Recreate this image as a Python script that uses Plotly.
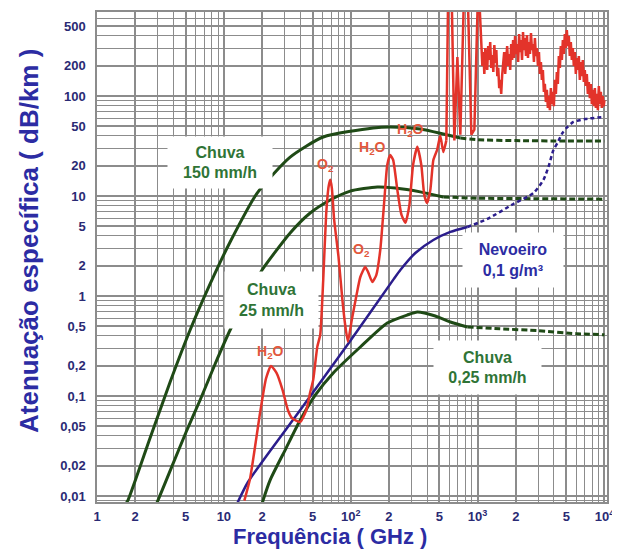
import plotly.graph_objects as go

# ---------------- data (GHz, dB/km) ----------------
rain150_f = [1.65, 1.757, 2.62, 3.77, 5.42, 7.79, 11.2, 18.3, 33.3, 60.7, 150, 205, 353, 537, 731]
rain150_a = [0.008, 0.0091, 0.038, 0.138, 0.457, 1.32, 3.47, 10.7, 24.5, 38.9, 47.9, 49, 46.8, 41.7, 38]
rain150_dash_f = [731, 1000, 2000, 5000, 10000]
rain150_dash_a = [38, 36.5, 35.8, 35.5, 35.5]

rain25_f = [2.9, 3.03, 3.91, 5.04, 6.5, 8.53, 11.2, 15.0, 20.0, 33.3, 47.9, 68.9, 99, 162, 224, 353, 537]
rain25_a = [0.008, 0.0091, 0.020, 0.0437, 0.0912, 0.209, 0.457, 0.955, 1.82, 4.27, 6.76, 9.12, 11.2, 12.3, 12.0, 11.0, 9.77]
rain25_dash_f = [537, 1000, 3000, 10000]
rain25_dash_a = [9.77, 9.5, 9.4, 9.3]

rain025_f = [19.8, 20.4, 23.2, 30.4, 40.0, 52.5, 72.8, 119, 194, 279, 335, 464, 610, 830]
rain025_a = [0.008, 0.0091, 0.0145, 0.0288, 0.0575, 0.102, 0.170, 0.309, 0.537, 0.646, 0.692, 0.631, 0.55, 0.49]
rain025_dash_f = [830, 1500, 3000, 6000, 10000]
rain025_dash_a = [0.49, 0.47, 0.45, 0.42, 0.41]

fog_f = [12.5, 15.5, 40, 99, 216, 246, 323, 448, 610, 830]
fog_a = [0.008, 0.0138, 0.0724, 0.355, 1.45, 1.82, 2.69, 3.63, 4.37, 4.90]
fog_dash_f = [830, 1194, 1915, 2752, 3304, 3616, 3960, 4258, 4667, 5105, 5690, 7080, 9820]
fog_dash_a = [4.90, 5.89, 8.32, 10.7, 14.5, 19.5, 28.8, 33.9, 42.7, 49, 55, 58.9, 61.7]

gas_low_f = [14.5, 16.1, 19.3, 21.5, 23.5, 26, 29, 32, 34.5, 40, 44.6, 48, 50.6, 54.5, 57.5,
             60.7, 64, 67, 69, 71, 74, 80, 86, 90.5, 95, 102, 111, 119, 130, 137, 148, 159,
             171, 184, 194, 205, 216, 233, 251, 270, 290, 310, 335, 360, 380, 400, 424,
             448, 480, 508, 537, 567]
gas_low_a = [0.009, 0.015, 0.068, 0.15, 0.2, 0.17, 0.115, 0.072, 0.06, 0.055, 0.072, 0.11, 0.145, 0.31, 0.41,
             1.45, 6.5, 12.5, 14.5, 12, 5.8, 2.5, 0.91, 0.51, 0.35, 0.58, 1.02, 1.55, 1.95, 1.74, 1.38, 1.62,
             2.9, 9.1, 20.4, 25.7, 22.9, 11.5, 6.5, 5.4, 8.1, 20.4, 31, 20.4, 10.2, 8.5, 11.5,
             22.9, 29, 40, 27.5, 36]
gas_mid_f = [588, 621, 656, 693, 731, 787, 830, 893, 943, 1014]
gas_mid_a = [1500, 1500, 36, 245, 41, 1500, 1500, 41, 46, 1500]
gas_high_f = [1070, 1090, 1110, 1130, 1150, 1170, 1190, 1212, 1235, 1257, 1280, 1305, 1330, 1355,
              1380, 1405, 1430, 1455, 1480, 1507, 1535, 1562, 1590, 1620, 1650, 1680, 1710, 1742,
              1775, 1807, 1840, 1872, 1905, 1940, 1975, 2012, 2050, 2087, 2125, 2162, 2200, 2240,
              2280, 2322, 2365, 2407, 2450, 2495, 2540, 2587, 2635, 2682, 2730, 2780, 2830, 2882,
              2935, 2990, 3045, 3100, 3155, 3212, 3270, 3330, 3390, 3452, 3515, 3580, 3645, 3712,
              3780, 3850, 3920, 3992, 4065, 4140, 4215, 4292, 4370, 4450, 4530, 4615, 4700, 4785,
              4870, 4960, 5050, 5142, 5235, 5332, 5430, 5530, 5630, 5735, 5840, 5947, 6055, 6167,
              6280, 6395, 6510, 6630, 6750, 6875, 7000, 7130, 7260, 7395, 7530, 7670, 7810, 7955,
              8100, 8250, 8400, 8555, 8710, 8870, 9030, 9195, 9360, 9530, 9700, 9850, 10000]
gas_high_a = [331, 200, 275, 166, 302, 219, 182, 316, 229, 347, 191, 257, 174, 324,
              214, 288, 158, 191, 120, 145, 105, 162, 209, 275, 166, 240, 316, 200,
              263, 182, 331, 229, 363, 240, 398, 263, 331, 219, 417, 275, 363, 229,
              437, 288, 380, 251, 407, 240, 347, 263, 427, 288, 331, 219, 380, 251,
              302, 200, 275, 166, 219, 145, 182, 110, 132, 87, 115, 76, 100, 72,
              120, 83, 110, 79, 145, 105, 174, 132, 251, 191, 316, 229, 363, 263,
              417, 302, 457, 316, 398, 251, 347, 229, 302, 200, 275, 166, 240, 182,
              251, 145, 219, 158, 229, 138, 182, 126, 166, 105, 138, 95, 132, 83,
              115, 79, 120, 76, 105, 72, 126, 83, 110, 76, 100, 79, 91]

x_tickvals = [1, 2, 5, 10, 20, 50, 100, 200, 500, 1000, 2000, 5000, 10000]
x_ticktext = ["1", "2", "5", "10", "2", "5", "10<sup>2</sup>", "2", "5", "10<sup>3</sup>", "2", "5", "10<sup>4</sup>"]
y_tickvals = [500, 200, 100, 50, 20, 10, 5, 2, 1, 0.5, 0.2, 0.1, 0.05, 0.02, 0.01]
y_ticktext = ["500", "200", "100", "50", "20", "10", "5", "2", "1", "0,5", "0,2", "0,1", "0,05", "0,02", "0,01"]

x_title = "Frequência ( GHz )"
y_title = "Atenuação específica ( dB/km )"

# ---------------- styles ----------------
GREEN = "#1f4a16"
NAVY = "#2b1d8c"
RED = "#e3332a"
LABEL_GREEN = "#2f7436"
LABEL_BLUE = "#2c2ca3"
RED_LABEL = "#e2573c"
TICK_COL = "#2a2a74"
GRID = "#8c8c8c"
FONT = "Liberation Sans, Arial, sans-serif"

fig = go.Figure()

def add(fx, fy, color, width, dash="solid"):
    fig.add_trace(go.Scatter(x=fx, y=fy, mode="lines",
                             line=dict(color=color, width=width, dash=dash, shape="spline", smoothing=0.6),
                             hoverinfo="skip", showlegend=False))

add(rain150_f, rain150_a, GREEN, 3)
add(rain150_dash_f, rain150_dash_a, GREEN, 3, "6px,3px")
add(rain25_f, rain25_a, GREEN, 3)
add(rain25_dash_f, rain25_dash_a, GREEN, 3, "6px,3px")
add(rain025_f, rain025_a, GREEN, 3)
add(rain025_dash_f, rain025_dash_a, GREEN, 3, "6px,3px")
add(fog_f, fog_a, NAVY, 2.5)
add(fog_dash_f, fog_dash_a, NAVY, 2.5, "4px,3px")

fig.add_trace(go.Scatter(x=gas_low_f, y=gas_low_a, mode="lines",
                         line=dict(color=RED, width=2.5, shape="spline", smoothing=0.5),
                         hoverinfo="skip", showlegend=False))
fig.add_trace(go.Scatter(x=[gas_low_f[-1]] + gas_mid_f + gas_high_f,
                         y=[gas_low_a[-1]] + gas_mid_a + gas_high_a, mode="lines",
                         line=dict(color=RED, width=2.5),
                         hoverinfo="skip", showlegend=False))

box_font = dict(family=FONT, size=16, weight="bold")
boxes = [
    ("Chuva<br>150 mm/h", 0.970, 1.335, 104, 51, LABEL_GREEN),
    ("Chuva<br>25 mm/h", 1.373, -0.04, 93, 56, LABEL_GREEN),
    ("Nevoeiro<br>0,1 g/m³", 3.282, 0.36, 100, 54, LABEL_BLUE),
    ("Chuva<br>0,25 mm/h", 3.077, -0.71, 107, 53, LABEL_GREEN),
]
for txt, xl, yl, w, h, col in boxes:
    fig.add_annotation(x=xl, y=yl, xref="x", yref="y", text=txt, showarrow=False,
                       bgcolor="white", width=w, height=h, borderpad=0,
                       font=dict(color=col, **box_font), align="center")

red_labels = [
    ("H<sub>2</sub>O", 1.365, -0.56),
    ("O<sub>2</sub>", 1.799, 1.31),
    ("O<sub>2</sub>", 2.083, 0.46),
    ("H<sub>2</sub>O", 2.170, 1.48),
    ("H<sub>2</sub>O", 2.469, 1.66),
]
for txt, xl, yl in red_labels:
    fig.add_annotation(x=xl, y=yl, xref="x", yref="y", text=txt, showarrow=False,
                       font=dict(color=RED_LABEL, size=14, family=FONT, weight="bold"))

# axis titles placed as annotations (off-centre as in the reference)
fig.add_annotation(x=0.457, y=-0.0714, xref="paper", yref="paper", text=x_title, showarrow=False,
                   xanchor="center", yanchor="middle",
                   font=dict(family=FONT, size=22, color=LABEL_BLUE, weight="bold"))
fig.add_annotation(x=-0.133, y=0.533, xref="paper", yref="paper", text=y_title, showarrow=False,
                   textangle=-90, xanchor="center", yanchor="middle",
                   font=dict(family=FONT, size=26, color=LABEL_BLUE, weight="bold"))

tick_font = dict(family=FONT, size=13, color=TICK_COL, weight="bold")

fig.update_xaxes(type="log", range=[0, 4.02], tickvals=x_tickvals, ticktext=x_ticktext,
                 tickfont=tick_font, ticks="", ticklabelstandoff=2, automargin=False,
                 showgrid=True, gridcolor=GRID, gridwidth=1.5,
                 minor=dict(dtick="D1", showgrid=True, gridcolor=GRID, gridwidth=1, ticks=""),
                 showline=True, linecolor=GRID, linewidth=1.5, mirror=True, zeroline=False)
fig.update_yaxes(type="log", range=[-2.06, 2.84], tickvals=y_tickvals, ticktext=y_ticktext,
                 tickfont=tick_font, ticks="", ticklabelstandoff=7, automargin=False,
                 showgrid=True, gridcolor=GRID, gridwidth=1.5,
                 minor=dict(dtick="D1", showgrid=True, gridcolor=GRID, gridwidth=1, ticks=""),
                 showline=True, linecolor=GRID, linewidth=1.5, mirror=True, zeroline=False)

# the page body adds an 8 px margin, so the figure is offset to land on the 620x554 window
fig.update_layout(width=612, height=546, autosize=False,
                  margin=dict(l=89, r=13, t=4, b=52, autoexpand=False),
                  paper_bgcolor="white", plot_bgcolor="white")

fig.write_html("out.html")
